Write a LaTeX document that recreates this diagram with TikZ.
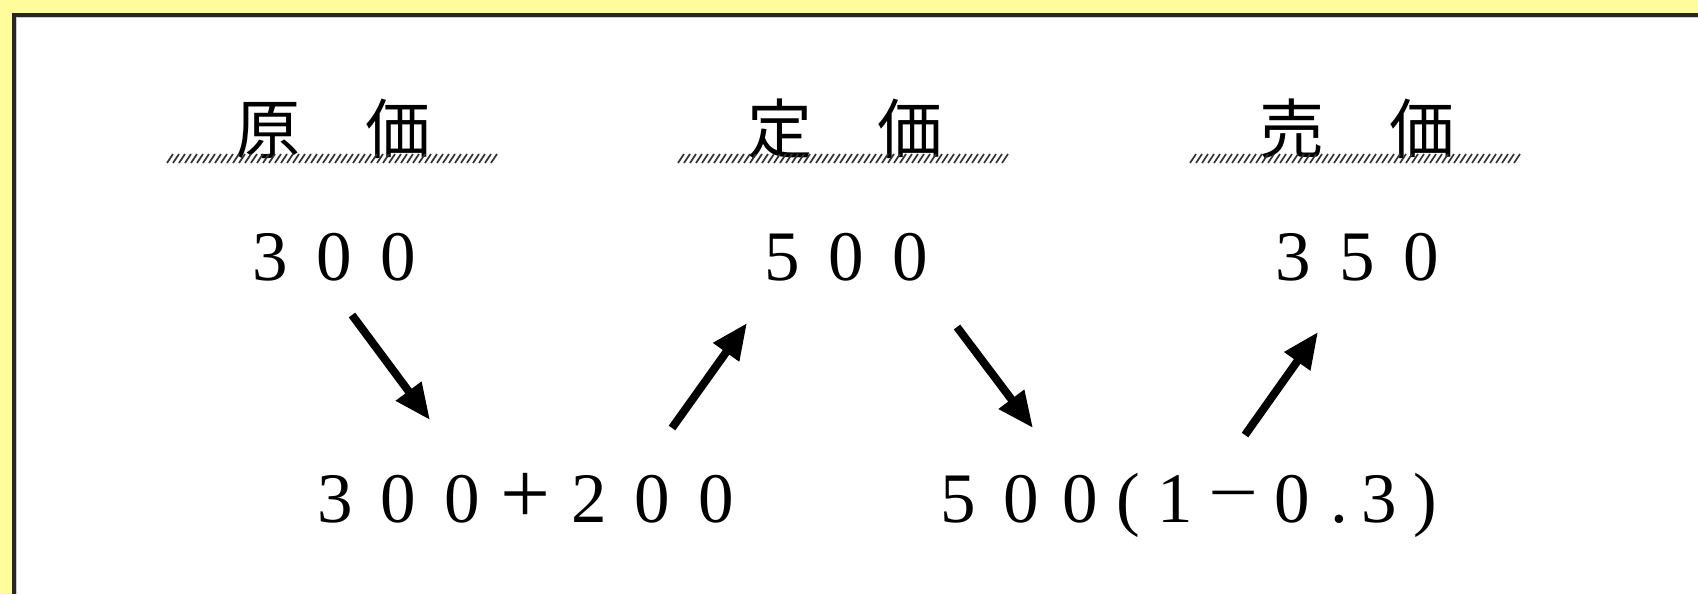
\documentclass[tikz,border=0pt]{standalone}
\usepackage{fontspec}
\setmainfont{Liberation Serif}
\newfontfamily\jpfont{Noto Sans CJK JP}
\usetikzlibrary{arrows.meta}
\definecolor{bgyellow}{RGB}{255,252,155}
\newcommand\fw[1]{\makebox[0.64cm]{#1}}
\newcommand\fx[1]{\makebox[0.635cm]{#1}}
\newcommand\dc[2]{\makebox[#1cm]{#2}}
\tikzset{
  hdr/.style={inner sep=0pt, font=\jpfont\fontsize{18.5}{22}\selectfont},
  num/.style={inner sep=0pt, anchor=base, font=\fontsize{20.2}{24}\selectfont},
  hatch/.style={line width=0.017cm, black!80},
  arr/.style={line width=0.08cm, -{Triangle[length=0.36cm,width=0.3cm]}}
}
\begin{document}
\begin{tikzpicture}[x=0.01cm,y=-0.01cm]
\useasboundingbox (0,0) rectangle (1698,594);
\fill[bgyellow] (0,0) rectangle (1698,594);
\fill[white] (14,15) rectangle (1698,594);
\draw[black!85, line width=0.03cm] (1698,15) -- (14,15) -- (14,594);
\draw[black!20, line width=0.01cm] (1698,17.5) -- (16.5,17.5) -- (16.5,594);
% headers
\node[hdr] (hA) at (333,129) {原　価};
\node[hdr] (hB) at (845,129) {定　価};
\node[hdr] (hC) at (1357,129) {売　価};
% hatched underlines
\foreach \xs in {167,678,1190}{
  \foreach \d in {0,6,...,324}{
    \draw[hatch] (\xs+\d,163) -- (\xs+\d+6,154);
  }
}
% numbers line 1
\node[num] (nA) at (334,280) {\fw{3}\fw{0}\fw{0}};
\node[num] (nB) at (846,280) {\fw{5}\fw{0}\fw{0}};
\node[num] (nC) at (1357,280) {\fw{3}\fw{5}\fw{0}};
% line 2
\node[num] (mA) at (525.5,522) {\fx{3}\fx{0}\fx{0}\fx{\raisebox{-0.02em}{\scalebox{1.25}{+}}}\fx{2}\fx{0}\fx{0}};
\node[num, anchor=base west] (mB) at (927,522) {\dc{0.62}{5}\dc{0.63}{0}\dc{0.545}{0}\dc{0.425}{(}\dc{0.515}{1}\dc{0.645}{\raisebox{0.06cm}{\scalebox{1.25}[1]{−}}}\dc{0.535}{0}\dc{0.39}{.}\dc{0.425}{3}\dc{0.48}{)}};
% arrows
\coordinate (t1) at (352,315); \coordinate (e1) at (430,420);
\coordinate (t2) at (672,428); \coordinate (e2) at (747,323);
\coordinate (t3) at (957,327); \coordinate (e3) at (1033,428);
\coordinate (t4) at (1245,435); \coordinate (e4) at (1318,332);
\draw[arr] (t1) -- (e1);
\draw[arr] (t2) -- (e2);
\draw[arr] (t3) -- (e3);
\draw[arr] (t4) -- (e4);
\end{tikzpicture}
\end{document}
